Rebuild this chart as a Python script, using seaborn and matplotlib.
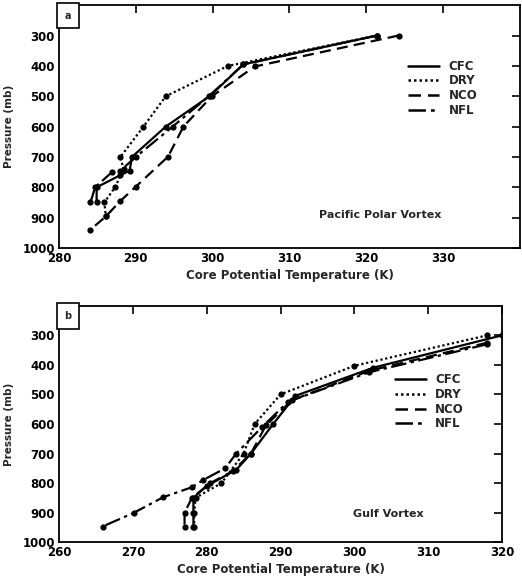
import numpy as np
import pandas as pd
import matplotlib
matplotlib.use("Agg")
import matplotlib.pyplot as plt
import seaborn as sns
from matplotlib.lines import Line2D

sns.set_theme(style="white")
plt.rcParams['font.family'] = ['DejaVu Sans']

series = ["CFC", "DRY", "NCO", "NFL"]

# Panel a: Pacific Polar Vortex
a_cfc_t = [321.4, 304.0, 299.7, 293.9, 289.5, 289.2, 288.0, 284.9, 284.9]
a_cfc_p = [300, 395, 498, 600, 700, 745, 760, 800, 850]
a_dry_t = [321.4, 302.0, 293.9, 291.0, 288.0, 288.4, 287.3, 285.9, 286.1]
a_dry_p = [300, 400, 500, 600, 700, 740, 800, 850, 895]
a_nco_t = [324.2, 305.5, 299.9, 296.2, 294.2, 290.0, 288.0, 286.1, 284.0]
a_nco_p = [300, 402, 500, 600, 699, 798, 845, 896, 942]
a_nfl_t = [321.4, 304.0, 299.5, 294.8, 290.0, 288.0, 286.9, 284.7, 284.1]
a_nfl_p = [300, 395, 500, 600, 700, 745, 750, 800, 850]

# Panel b: Gulf Vortex
b_cfc_t = [320.0, 302.5, 292.0, 289.0, 286.0, 284.0, 280.0, 278.2, 278.2, 278.2]
b_cfc_p = [300, 410, 505, 600, 700, 755, 810, 850, 900, 947]
b_dry_t = [318.0, 300.0, 290.0, 286.5, 285.0, 282.0, 278.5, 278.3, 278.3]
b_dry_p = [300, 403, 500, 600, 700, 800, 850, 900, 947]
b_nco_t = [318.0, 302.0, 291.5, 288.0, 286.0, 283.5, 280.5, 278.0, 277.0, 277.0]
b_nco_p = [325, 420, 520, 605, 700, 760, 800, 850, 900, 947]
b_nfl_t = [318.0, 302.0, 291.0, 287.5, 284.0, 282.5, 279.5, 278.0, 274.1, 270.1, 265.9]
b_nfl_p = [330, 425, 525, 610, 700, 750, 790, 814, 848, 901, 947]

x_ticks_a = [280, 290, 300, 310, 320, 330]
x_ticks_b = [260, 270, 280, 290, 300, 310, 320]
y_ticks = [300, 400, 500, 600, 700, 800, 900, 1000]


def frame(data):
    rows = []
    for name, (t, p) in data.items():
        for i, (tt, pp) in enumerate(zip(t, p)):
            rows.append({"run": name, "T": tt, "P": pp, "i": i})
    return pd.DataFrame(rows)


df_a = frame({"CFC": (a_cfc_t, a_cfc_p), "DRY": (a_dry_t, a_dry_p),
              "NCO": (a_nco_t, a_nco_p), "NFL": (a_nfl_t, a_nfl_p)})
df_b = frame({"CFC": (b_cfc_t, b_cfc_p), "DRY": (b_dry_t, b_dry_p),
              "NCO": (b_nco_t, b_nco_p), "NFL": (b_nfl_t, b_nfl_p)})

dashes = {"CFC": "", "DRY": (1, 1.2), "NCO": (5, 2.8), "NFL": (7, 2, 1.5, 2)}
palette = {s: "black" for s in series}

fig = plt.figure(figsize=(5.22, 5.78), dpi=100)
ax_a = fig.add_axes([0.113, 0.571, 0.883, 0.420])
ax_b = fig.add_axes([0.113, 0.062, 0.849, 0.409])

fs = 8.5
for ax, df, xlim, xt, label, note, note_xy, leg_anchor in [
    (ax_a, df_a, (280, 340), x_ticks_a, "a", "Pacific Polar Vortex", (313.8, 890), (0.92, 0.80)),
    (ax_b, df_b, (260, 320), x_ticks_b, "b", "Gulf Vortex", (299.8, 903), (0.927, 0.74)),
]:
    sns.lineplot(data=df, x="T", y="P", hue="run", style="run", hue_order=series,
                 style_order=series, palette=palette, dashes=dashes, sort=False,
                 estimator=None, units="run", marker="o", markersize=4.5,
                 markeredgewidth=0, linewidth=1.6, ax=ax, legend=True)
    ax.set_xlim(*xlim)
    ax.set_ylim(1000, 200)
    ax.set_xticks(xt)
    ax.set_yticks(y_ticks)
    ax.set_xlabel("Core Potential Temperature (K)", fontsize=fs, fontweight="bold", labelpad=3)
    ax.set_ylabel("Pressure (mb)", fontsize=fs - 1, fontweight="bold", labelpad=6)
    ax.tick_params(direction="in", length=6, width=1.2, top=True, right=True,
                   labelsize=fs, colors="black")
    ax.tick_params(axis="x", pad=3)
    ax.tick_params(axis="y", pad=3)
    for lbl in ax.get_xticklabels() + ax.get_yticklabels():
        lbl.set_fontweight("bold")
    for sp in ax.spines.values():
        sp.set_color("black")
        sp.set_linewidth(1.3)
    new_h = []
    for s in series:
        d = dashes[s]
        if d == "":
            nh = Line2D([], [], color="black", linewidth=1.8, linestyle="-")
        else:
            nh = Line2D([], [], color="black", linewidth=1.8, linestyle=(0, d))
        new_h.append(nh)
    leg = ax.legend(new_h, series, loc="upper right", bbox_to_anchor=leg_anchor,
                    frameon=False, handlelength=2.6, handletextpad=0.8,
                    labelspacing=0.15, borderpad=0.0,
                    prop={"size": fs, "weight": "bold"})
    ax.text(0.012, 0.978, label, transform=ax.transAxes, ha="left", va="top",
            fontsize=fs - 1.5, fontweight="bold",
            bbox=dict(boxstyle="square,pad=0.8", fc="white", ec="black", lw=1.2))
    ax.text(note_xy[0], note_xy[1], note, fontsize=fs - 0.5, fontweight="bold",
            ha="left", va="center")

fig.savefig("out.png", dpi=100)
